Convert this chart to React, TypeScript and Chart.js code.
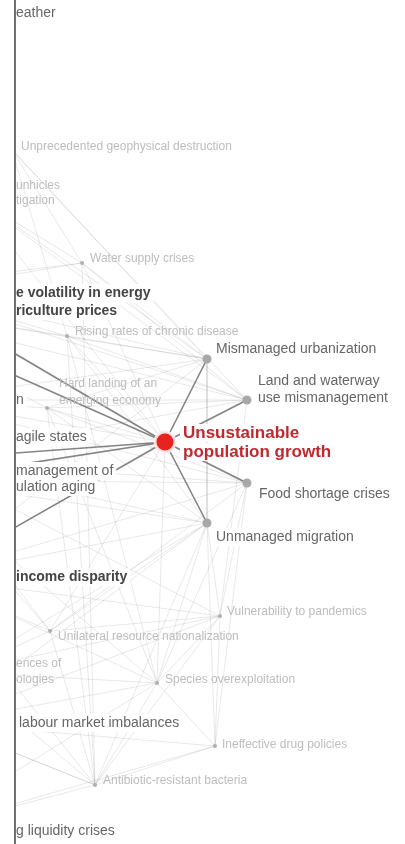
import React, { useEffect, useRef } from "react";
import { Chart, registerables } from "chart.js";

Chart.register(...registerables);

// ---- data ----
const NODE_NAMES = [
  "Unsustainable population growth", // 0
  "Mismanaged urbanization", // 1
  "Land and waterway use mismanagement", // 2
  "Food shortage crises", // 3
  "Unmanaged migration", // 4
  "Water supply crises", // 5
  "Rising rates of chronic disease", // 6
  "Hard landing of an emerging economy", // 7
  "Vulnerability to pandemics", // 8
  "Unilateral resource nationalization", // 9
  "Species overexploitation", // 10
  "Ineffective drug policies", // 11
  "Antibiotic-resistant bacteria", // 12
  "Unprecedented geophysical destruction", // 13
  "Persistent extreme weather", // 14
  "Climate change mitigation", // 15
  "Extreme volatility in energy and agriculture prices", // 16
  "Hidden risk A", // 17
  "Risk n", // 18
  "Critical fragile states", // 19
  "Mismanagement of population aging", // 20
  "Severe income disparity", // 21
  "New life science technologies", // 22
  "Chronic labour market imbalances", // 23
  "Recurring liquidity crises", // 24
];
const NODE_X = [165, 207, 247, 247, 207, 82, 67, 47, 220, 50, 157, 215, 95, 12, -60, -30, -150, -100, -80, -80, -80, -72, -40, -60, -80];
const NODE_Y = [442, 359, 400, 483, 523, 263, 336, 408, 616, 631, 683, 746, 785, 150, 14, 194, 302, 286, 400, 460, 480, 577, 672, 723, 831];
const NODE_KIND = ["focus", "major", "major", "major", "major", "minor", "minor", "minor", "minor", "minor", "minor", "minor", "minor", "minor", "hidden", "hidden", "hidden", "hidden", "hidden", "hidden", "hidden", "hidden", "hidden", "hidden", "hidden"];

// strong links of the focus risk
const STRONG_EDGES: number[][] = [
  [0, 1], [0, 2], [0, 3], [0, 4], [0, 16], [0, 17], [0, 19], [0, 20], [0, 21],
];
// faint background links
const LIGHT_EDGES: number[][] = [
  [13, 1], [13, 2], [15, 1], [15, 2], [15, 0], [13, 5], [15, 5], [16, 5], [17, 5],
  [5, 1], [5, 2], [5, 0], [13, 6],
  [6, 1], [6, 2], [6, 0], [6, 4], [7, 0], [7, 1], [7, 2], [7, 3],
  [16, 1], [16, 2], [17, 1], [17, 2], [18, 1], [18, 2], [18, 3], [18, 0], [16, 6],
  [19, 3], [19, 4], [20, 4], [20, 3], [21, 4], [21, 3], [21, 1], [19, 2],
  [9, 4], [9, 8], [9, 0], [9, 3], [10, 4], [10, 0], [10, 3], [10, 8], [10, 21],
  [11, 4], [11, 8], [11, 10], [11, 12], [11, 23],
  [12, 9], [12, 10], [12, 21], [12, 23], [12, 22], [12, 24], [12, 7], [12, 4], [12, 8], [12, 5], [12, 6],
  [22, 4], [22, 10], [22, 8], [23, 4], [23, 8], [23, 10], [24, 10], [24, 11],
  [4, 8], [21, 8], [21, 9], [19, 8], [20, 10], [6, 10], [7, 10], [7, 4], [3, 8], [3, 11], [2, 8], [1, 4],
  [20, 9], [19, 9], [18, 7], [16, 7], [17, 6], [21, 0], [22, 9], [23, 12],
];

type Label = { lines: string[]; x: number; ys: number[]; style: string };
const LABELS: Label[] = [
  { lines: ["eather"], x: 16, ys: [13], style: "mid" },
  { lines: ["Unprecedented geophysical destruction"], x: 21, ys: [147], style: "light" },
  { lines: ["unhicles", "tigation"], x: 16, ys: [186, 201], style: "light" },
  { lines: ["Water supply crises"], x: 90, ys: [259], style: "light" },
  { lines: ["e volatility in energy", "riculture prices"], x: 16, ys: [293, 311], style: "dark" },
  { lines: ["Rising rates of chronic disease"], x: 75, ys: [332], style: "light" },
  { lines: ["Mismanaged urbanization"], x: 216, ys: [349], style: "mid" },
  { lines: ["Land and waterway", "use mismanagement"], x: 258, ys: [381, 398], style: "mid" },
  { lines: ["Hard landing of an", "emerging economy"], x: 59, ys: [384, 401], style: "light" },
  { lines: ["n"], x: 16, ys: [400], style: "mid" },
  { lines: ["Unsustainable", "population growth"], x: 183, ys: [433, 452], style: "red" },
  { lines: ["agile states"], x: 16, ys: [437], style: "mid" },
  { lines: ["management of", "ulation aging"], x: 16, ys: [471, 487], style: "mid" },
  { lines: ["Food shortage crises"], x: 259, ys: [494], style: "mid" },
  { lines: ["Unmanaged migration"], x: 216, ys: [537], style: "mid" },
  { lines: ["income disparity"], x: 16, ys: [577], style: "dark" },
  { lines: ["Vulnerability to pandemics"], x: 227, ys: [612], style: "light" },
  { lines: ["Unilateral resource nationalization"], x: 58, ys: [637], style: "light" },
  { lines: ["ences of", "ologies"], x: 16, ys: [664, 680], style: "light" },
  { lines: ["Species overexploitation"], x: 165, ys: [680], style: "light" },
  { lines: ["labour market imbalances"], x: 19, ys: [723], style: "mid" },
  { lines: ["Ineffective drug policies"], x: 222, ys: [745], style: "light" },
  { lines: ["Antibiotic-resistant bacteria"], x: 103, ys: [781], style: "light" },
  { lines: ["g liquidity crises"], x: 16, ys: [831], style: "mid" },
];

const FONT = "'Liberation Sans', Arial, Helvetica, sans-serif";
const STYLES: Record<string, { font: string; color: string; bg: boolean }> = {
  light: { font: `12px ${FONT}`, color: "#bdbdbd", bg: false },
  mid: { font: `14px ${FONT}`, color: "#666666", bg: true },
  dark: { font: `bold 14px ${FONT}`, color: "#444444", bg: true },
  red: { font: `bold 17px ${FONT}`, color: "#bf2a30", bg: true },
};

const labelPlugin = {
  id: "netLabels",
  afterDatasetsDraw(chart: any) {
    const { ctx, chartArea, scales } = chart;
    const xs = scales.x;
    const ys = scales.y;
    ctx.save();
    ctx.beginPath();
    ctx.rect(chartArea.left, chartArea.top, chartArea.right - chartArea.left, chartArea.bottom - chartArea.top);
    ctx.clip();
    ctx.textBaseline = "middle";
    ctx.textAlign = "left";
    for (const lab of LABELS) {
      const st = STYLES[lab.style];
      ctx.font = st.font;
      lab.lines.forEach((line, i) => {
        const px = xs.getPixelForValue(lab.x);
        const py = ys.getPixelForValue(lab.ys[i]);
        if (st.bg) {
          const w = ctx.measureText(line).width;
          ctx.fillStyle = "#ffffff";
          ctx.fillRect(px - 3, py - 9, w + 6, 18);
        }
      });
    }
    for (const lab of LABELS) {
      const st = STYLES[lab.style];
      ctx.font = st.font;
      ctx.fillStyle = st.color;
      lab.lines.forEach((line, i) => {
        ctx.fillText(line, xs.getPixelForValue(lab.x), ys.getPixelForValue(lab.ys[i]));
      });
    }
    ctx.restore();
  },
  afterDraw(chart: any) {
    const { ctx, chartArea } = chart;
    ctx.save();
    ctx.strokeStyle = "#707070";
    ctx.lineWidth = 2;
    ctx.beginPath();
    ctx.moveTo(chartArea.left - 1, 0);
    ctx.lineTo(chartArea.left - 1, chart.height);
    ctx.stroke();
    ctx.restore();
  },
};

export default function App() {
  const ref = useRef<HTMLCanvasElement | null>(null);
  useEffect(() => {
    if (!ref.current) return;
    const pts = NODE_X.map((x, i) => ({ x, y: NODE_Y[i] }));
    const radius = NODE_KIND.map((k) => (k === "focus" ? 10 : k === "major" ? 4.5 : k === "minor" ? 2 : 0));
    const colors = NODE_KIND.map((k) => (k === "focus" ? "#e8231f" : k === "major" ? "#a8a8a8" : "#b0b0b0"));
    const borders = NODE_KIND.map((k) => (k === "focus" ? "rgba(255,235,235,0.9)" : "rgba(255,255,255,0)"));
    const edgeDs = (pairs: number[][], color: string, width: number) =>
      pairs.map((p) => ({
        type: "line" as const,
        data: [pts[p[0]], pts[p[1]]],
        borderColor: color,
        borderWidth: width,
        pointRadius: 0,
        showLine: true,
        fill: false,
        tension: 0,
      }));
    const chart = new Chart(ref.current, {
      type: "scatter",
      data: {
        datasets: [
          {
            data: pts,
            pointRadius: radius,
            pointHoverRadius: radius,
            pointBackgroundColor: colors,
            pointBorderColor: borders,
            pointBorderWidth: 3,
          } as any,
          ...edgeDs(STRONG_EDGES, "rgba(110,110,110,0.85)", 1.6),
          ...edgeDs(LIGHT_EDGES, "rgba(0,0,0,0.09)", 1),
        ],
      },
      options: {
        animation: false,
        responsive: false,
        events: [],
        layout: { autoPadding: false, padding: { left: 16, right: 0, top: 0, bottom: 0 } },
        plugins: { legend: { display: false }, tooltip: { enabled: false } },
        scales: {
          x: { type: "linear", min: 16, max: 405, display: false },
          y: { type: "linear", min: 0, max: 844, reverse: true, display: false },
        },
      } as any,
      plugins: [labelPlugin],
    });
    return () => chart.destroy();
  }, []);
  return (
    <div style={{ position: "absolute", left: 0, top: 0, width: 405, height: 844, background: "#fff" }}>
      <canvas ref={ref} width={405} height={844} style={{ display: "block" }} />
    </div>
  );
}
